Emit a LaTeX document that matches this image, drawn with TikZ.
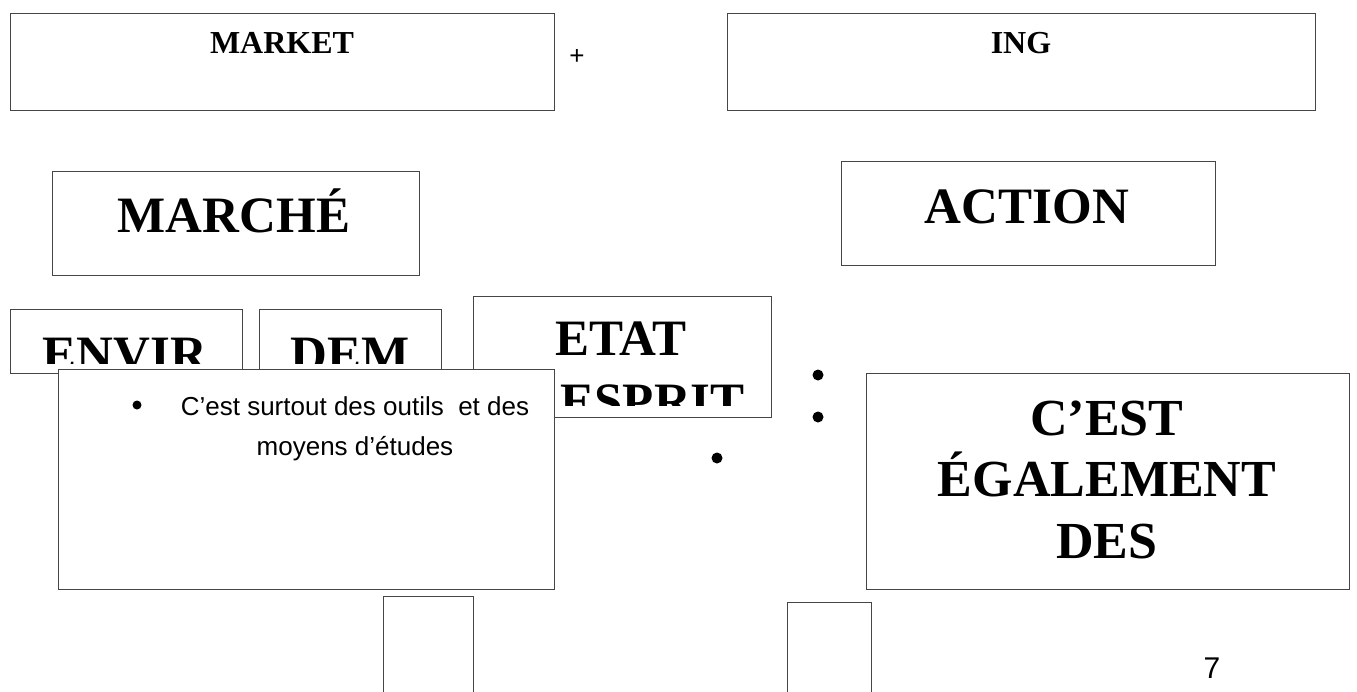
\documentclass[tikz,border=0pt]{standalone}
\usepackage{fontspec}
\setmainfont{Liberation Serif}
\setsansfont{Liberation Sans}
\usetikzlibrary{positioning}
\definecolor{trait}{RGB}{70,70,70}
\tikzset{
  cadre/.style={draw=trait,line width=1pt,fill=white,inner sep=0pt,anchor=north west},
  petit/.style={font=\bfseries\fontsize{32}{38}\selectfont,inner sep=0pt,anchor=base},
  titre/.style={font=\bfseries\fontsize{51}{62}\selectfont,inner sep=0pt,anchor=base},
  corps/.style={font=\sffamily\fontsize{26}{40}\selectfont,inner sep=0pt,anchor=base,align=center},
  puce/.style={circle,fill=black,inner sep=0pt,minimum size=11pt},
}

\begin{document}
\begin{tikzpicture}[x=1pt,y=-1pt]
  \useasboundingbox (0,0) rectangle (1357,691);
  % top row
  \node[cadre,minimum width=544pt,minimum height=97pt] (market) at (10,13) {};
  \node[cadre,minimum width=588pt,minimum height=97pt] (ing) at (727,13) {};
  \node[petit] (marketlbl) at (282,53) {MARKET};
  \node[petit] (inglbl) at (1021,53) {ING};
  \node[font=\sffamily\fontsize{26}{30}\selectfont,inner sep=0pt] (plus) at (577,57) {+};
  % second row
  \node[cadre,minimum width=367pt,minimum height=104pt] (marche) at (52,171) {};
  \node[cadre,minimum width=374pt,minimum height=104pt] (action) at (841,161) {};
  \node[titre] (marchelbl) at (234,232) {MARCHÉ};
  \node[titre] (actionlbl) at (1027,223) {ACTION};
  % third row, text cut by its frame
  \node[cadre,minimum width=232pt,minimum height=64pt] (envir) at (10,309) {};
  \node[cadre,minimum width=182pt,minimum height=64pt] (dem) at (259,309) {};
  \node[cadre,minimum width=298pt,minimum height=121pt] (etat) at (473,296) {};
  \begin{scope}
    \clip (10,309) rectangle (242,363);
    \node[titre] (envirlbl) at (125,371) {ENVIR};
  \end{scope}
  \begin{scope}
    \clip (259,309) rectangle (441,363);
    \node[titre] (demlbl) at (350,371) {DEM};
  \end{scope}
  \node[titre] (etatlbl) at (621,355) {ETAT};
  \begin{scope}
    \clip (473,296) rectangle (771,405);
    \node[titre,anchor=base east] (espritlbl) at (745,418) {ESPRIT};
  \end{scope}
  % text box on top
  \node[cadre,minimum width=496pt,minimum height=220pt] (outils) at (58,369) {};
  \node[circle,fill=black,inner sep=0pt,minimum size=9pt] (outilspuce) at (137,405) {};
  \node[corps] (outilslbl) at (355,455)
    {C’est surtout des outils \ et des\\moyens d’études};
  % loose dots
  \foreach \px/\py [count=\i] in {818/375,818/417,717/458}
    \node[puce] (pt\i) at (\px,\py) {};
  % right box
  \node[cadre,minimum width=483pt,minimum height=216pt] (cest) at (866,373) {};
  \node[titre,font=\bfseries\fontsize{52}{61.5}\selectfont,align=center] (cestlbl) at (1107,558)
    {C’EST\\ÉGALEMENT\\DES};
  % bottom
  \node[cadre,minimum width=90pt,minimum height=120pt] (basA) at (383,596) {};
  \node[cadre,minimum width=84pt,minimum height=120pt] (basB) at (787,602) {};
  \node[font=\sffamily\fontsize{30}{36}\selectfont,inner sep=0pt,anchor=base] (page) at (1212,678) {7};
\end{tikzpicture}
\end{document}
